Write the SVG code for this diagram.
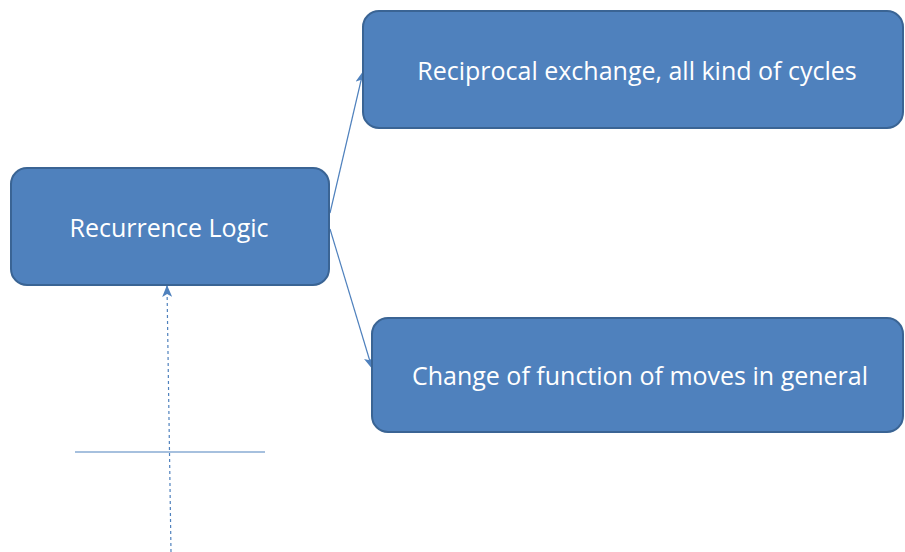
<svg xmlns="http://www.w3.org/2000/svg" width="905" height="552" viewBox="0 0 905 552">
<style>
.box{fill:#4F81BD;stroke:#3A6494;stroke-width:2}
.lbl{fill:#FFFFFF;font-family:"Open Sans","Liberation Sans",sans-serif;font-size:25px;text-anchor:middle;dominant-baseline:central}
.con{stroke:#4F81BD;stroke-width:1.2;fill:none}
</style>
<defs>
<marker id="ah" viewBox="0 0 12 10" refX="11" refY="5" markerWidth="12" markerHeight="10" markerUnits="userSpaceOnUse" orient="auto">
<path d="M0,0 L12,5 L0,10 L3,5 Z" fill="#4F81BD"/>
</marker>
</defs>
<g id="connectors">
<line class="con" x1="330" y1="213" x2="363" y2="72" marker-end="url(#ah)"/>
<line class="con" x1="330" y1="229" x2="372" y2="368" marker-end="url(#ah)"/>
<line class="con" x1="171" y1="552" x2="167" y2="286" stroke-dasharray="3,3" marker-end="url(#ah)"/>
<line class="con" x1="75" y1="452" x2="265" y2="452"/>
</g>
<g id="node-recurrence">
<rect class="box" x="11" y="168" width="318" height="117" rx="16"/>
<text class="lbl" x="169" y="227">Recurrence Logic</text>
</g>
<g id="node-reciprocal">
<rect class="box" x="363" y="11" width="540" height="117" rx="16"/>
<text class="lbl" x="637" y="70">Reciprocal exchange, all kind of cycles</text>
</g>
<g id="node-change">
<rect class="box" x="372" y="318" width="531" height="114" rx="16"/>
<text class="lbl" x="640" y="375">Change of function of moves in general</text>
</g>
</svg>
